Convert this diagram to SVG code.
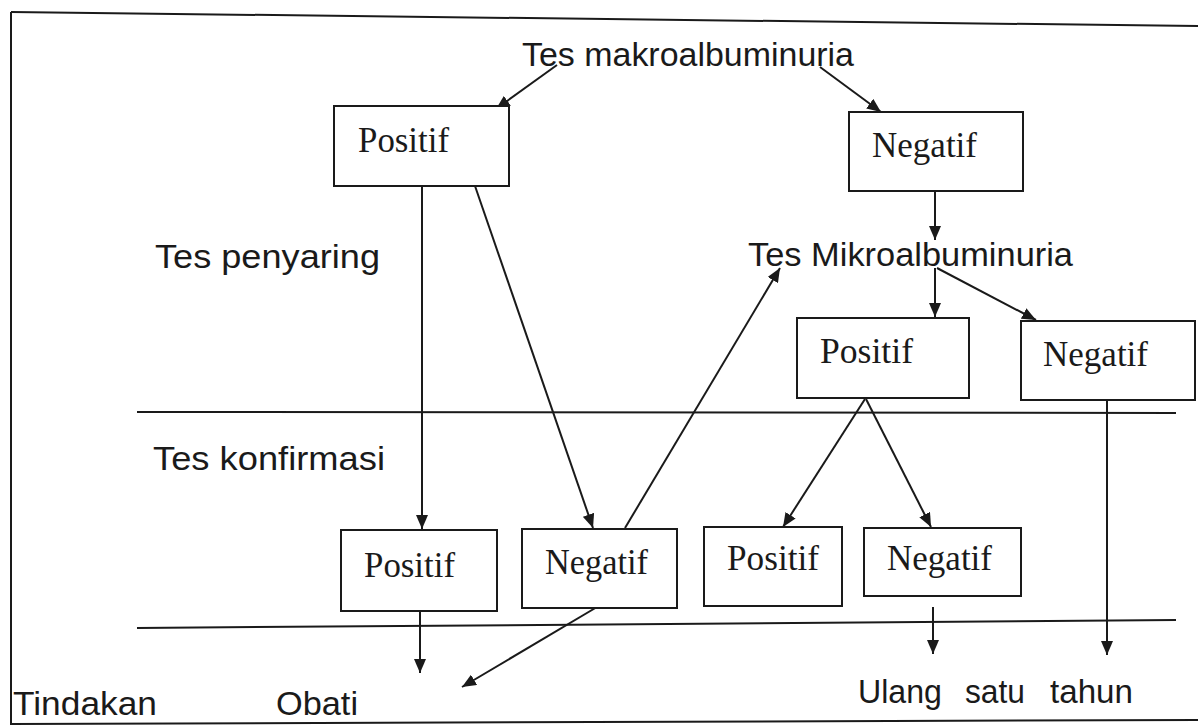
<svg xmlns="http://www.w3.org/2000/svg" width="1198" height="725" viewBox="0 0 1198 725">
<style>
.box{fill:#fff;stroke:#1a1a1a;stroke-width:2}
.bt{font-family:"Liberation Serif","Times New Roman",serif;font-size:35px;fill:#1a1a1a}
.st{font-family:"Liberation Sans",Arial,sans-serif;font-size:33px;fill:#1a1a1a}
.ln{stroke:#1a1a1a;stroke-width:2;fill:none}
.ar{stroke:#1a1a1a;stroke-width:2;fill:none;marker-end:url(#ah)}
</style>
<defs>
<marker id="ah" markerUnits="userSpaceOnUse" markerWidth="14" markerHeight="12" refX="14" refY="6" orient="auto" viewBox="0 0 14 12">
<path d="M0,0 L14,6 L0,12 z" fill="#1a1a1a"/>
</marker>
</defs>
<rect x="0" y="0" width="1198" height="725" fill="#fff"/>
<g id="frame">
<line class="ln" x1="11" y1="12" x2="1198" y2="26"/>
<line class="ln" x1="11" y1="12" x2="11" y2="725"/>
<line class="ln" x1="11" y1="724" x2="1198" y2="720"/>
<line class="ln" x1="137" y1="412" x2="1176" y2="413"/>
<line class="ln" x1="137" y1="628" x2="1176" y2="620"/>
</g>
<g id="labels">
<text class="st" x="522" y="66" textLength="332" lengthAdjust="spacingAndGlyphs">Tes makroalbuminuria</text>
<text class="st" x="155" y="268" textLength="225" lengthAdjust="spacingAndGlyphs">Tes penyaring</text>
<text class="st" x="748" y="266" textLength="325" lengthAdjust="spacingAndGlyphs">Tes Mikroalbuminuria</text>
<text class="st" x="153" y="470" textLength="232" lengthAdjust="spacingAndGlyphs">Tes konfirmasi</text>
<text class="st" x="13" y="715" textLength="144" lengthAdjust="spacingAndGlyphs">Tindakan</text>
<text class="st" x="276" y="715" textLength="82" lengthAdjust="spacingAndGlyphs">Obati</text>
<text class="st" y="703"><tspan x="858" textLength="84" lengthAdjust="spacingAndGlyphs">Ulang</tspan> <tspan x="965" textLength="60" lengthAdjust="spacingAndGlyphs">satu</tspan> <tspan x="1050" textLength="83" lengthAdjust="spacingAndGlyphs">tahun</tspan></text>
</g>
<g id="connectors">
<line class="ar" x1="557" y1="65" x2="496" y2="109"/>
<line class="ar" x1="820" y1="67" x2="881" y2="112"/>
<line class="ar" x1="422" y1="186" x2="422" y2="529"/>
<line class="ar" x1="475" y1="186" x2="593" y2="528"/>
<line class="ar" x1="625" y1="528" x2="780" y2="268"/>
<line class="ar" x1="935" y1="191" x2="935" y2="240"/>
<line class="ar" x1="935" y1="268" x2="935" y2="317"/>
<line class="ar" x1="937" y1="268" x2="1036" y2="320"/>
<line class="ar" x1="865" y1="399" x2="783" y2="527"/>
<line class="ar" x1="866" y1="399" x2="931" y2="527"/>
<line class="ar" x1="1107" y1="400" x2="1107" y2="655"/>
<line class="ar" x1="420" y1="611" x2="420" y2="673"/>
<line class="ar" x1="597" y1="607" x2="462" y2="687"/>
<line class="ar" x1="933" y1="607" x2="933" y2="654"/>
</g>
<g id="n1"><rect class="box" x="334" y="106" width="175" height="80"/><text class="bt" x="358" y="152" textLength="91" lengthAdjust="spacingAndGlyphs">Positif</text></g>
<g id="n2"><rect class="box" x="849" y="112" width="174" height="79"/><text class="bt" x="872" y="157" textLength="105" lengthAdjust="spacingAndGlyphs">Negatif</text></g>
<g id="n3"><rect class="box" x="797" y="318" width="172" height="80"/><text class="bt" x="820" y="363" textLength="93" lengthAdjust="spacingAndGlyphs">Positif</text></g>
<g id="n4"><rect class="box" x="1021" y="321" width="174" height="79"/><text class="bt" x="1043" y="366" textLength="105" lengthAdjust="spacingAndGlyphs">Negatif</text></g>
<g id="n5"><rect class="box" x="341" y="530" width="156" height="81"/><text class="bt" x="364" y="577" textLength="91" lengthAdjust="spacingAndGlyphs">Positif</text></g>
<g id="n6"><rect class="box" x="522" y="529" width="155" height="79"/><text class="bt" x="545" y="574" textLength="103" lengthAdjust="spacingAndGlyphs">Negatif</text></g>
<g id="n7"><rect class="box" x="704" y="527" width="138" height="79"/><text class="bt" x="727" y="570" textLength="92" lengthAdjust="spacingAndGlyphs">Positif</text></g>
<g id="n8"><rect class="box" x="864" y="528" width="157" height="68"/><text class="bt" x="887" y="570" textLength="105" lengthAdjust="spacingAndGlyphs">Negatif</text></g>
</svg>
